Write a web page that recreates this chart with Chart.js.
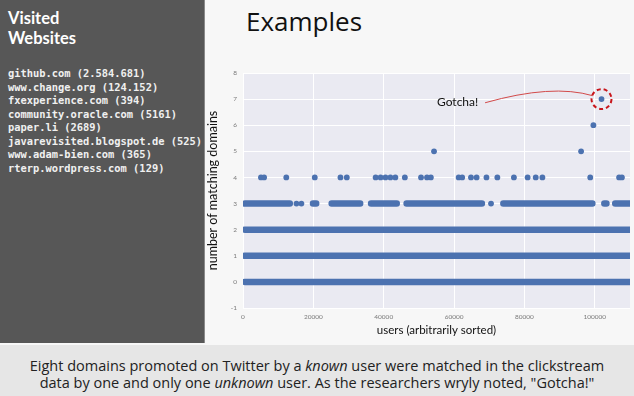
<!DOCTYPE html>
<html>
<head>
<meta charset="utf-8">
<script src="https://cdn.jsdelivr.net/npm/chart.js@4"></script>
<style>
  html, body { margin: 0; padding: 0; }
  body { width: 634px; height: 396px; overflow: hidden; position: relative; background: #f7f7f7; font-family: "Open Sans", sans-serif; }
  #side { position: absolute; left: 0; top: 0; width: 204px; height: 343px; background: #575757; border-right: 1px solid #8a8a8a; }
  #side h2 { margin: 0; position: absolute; left: 8px; top: 8px; font: bold 16.5px/20px Lato, sans-serif; color: #fff; }
  #side ul { list-style: none; margin: 0; padding: 0; position: absolute; left: 8px; top: 67px; font: bold 10.4px/13.5px "DejaVu Sans Mono", monospace; color: #f0f0f0; }
  #title { position: absolute; left: 246px; top: 3px; font: 26px "Open Sans", sans-serif; color: #111; }
  #wrap { position: absolute; left: 205px; top: 62px; width: 429px; height: 281px; }
  #caption { position: absolute; left: 0; top: 345px; width: 634px; height: 51px; background: #e6e6e6; display: flex; align-items: center; justify-content: center; text-align: center; font: 14.5px/17px "Open Sans", sans-serif; color: #222; padding-top: 6px; box-sizing: border-box; }
</style>
</head>
<body>
<div id="side">
  <h2>Visited<br>Websites</h2>
  <ul id="sites"></ul>
</div>
<div id="title">Examples</div>
<div id="wrap"><canvas id="myChart"></canvas></div>
<div id="caption"><div>Eight domains promoted on Twitter by a <i>known</i> user were matched in the clickstream<br>data by one and only one <i>unknown</i> user. As the researchers wryly noted, "Gotcha!"</div></div>
<script>
// sites listed in the side panel
const sites = ['github.com (2.584.681)', 'www.change.org (124.152)', 'fxexperience.com (394)', 'community.oracle.com (5161)',
  'paper.li (2689)', 'javarevisited.blogspot.de (525)', 'www.adam-bien.com (365)', 'rterp.wordpress.com (129)'];

// runs of users packed so densely they merge into one band: [first user, last user]
const bandsY0 = [[500, 110000]];
const bandsY1 = [[500, 110000]];
const bandsY2 = [[500, 110000]];
const bandsY3 = [[500, 13300], [19900, 20800], [25200, 33300], [36400, 43700], [46500, 67900], [74000, 99300], [102700, 103300], [105800, 110000]];

// single users (x positions) at each count of matching domains
const usersY3 = [15200, 16600, 70500];
const usersY4 = [5100, 6000, 12300, 20400, 27700, 29500, 37700, 39100, 40500, 41900, 43300, 46000, 50600, 52300, 53400,
  61300, 62300, 64800, 66400, 69200, 72300, 77000, 80900, 83200, 85100, 98700, 106900, 107700];
const usersY5 = [54300, 96100];
const usersY6 = [99600];
const usersY7 = [101900];

const xTicks = [0, 20000, 40000, 60000, 80000, 100000];
const gotchaLabel = 'Gotcha!';

document.getElementById('sites').innerHTML = sites.map(s => '<li>' + s + '</li>').join('');

const blue = '#4c72b0';

function bandData(bands, y) {
  const out = [];
  bands.forEach(b => {
    out.push({x: b[0], y: y}, {x: b[1], y: y}, {x: b[1], y: null});
  });
  return out;
}
function pointData(xs, y) {
  return xs.map(x => ({x: x, y: y}));
}

const bandSets = [[bandsY0, 0], [bandsY1, 1], [bandsY2, 2], [bandsY3, 3]].map(([b, y]) => ({
  data: bandData(b, y),
  showLine: true,
  borderColor: blue,
  borderWidth: 6.5,
  borderCapStyle: 'round',
  pointRadius: 0
}));

const singles = [].concat(pointData(usersY3, 3), pointData(usersY4, 4), pointData(usersY5, 5),
  pointData(usersY6, 6), pointData(usersY7, 7));

const plotBg = {
  id: 'plotBg',
  beforeDraw(chart) {
    const a = chart.chartArea, c = chart.ctx;
    c.save();
    c.fillStyle = '#eaeaf2';
    c.fillRect(a.left, a.top, a.right - a.left, a.bottom - a.top);
    c.restore();
  }
};

const gotcha = {
  id: 'gotcha',
  afterDatasetsDraw(chart) {
    const xs = chart.scales.x, ys = chart.scales.y, c = chart.ctx;
    const cx = xs.getPixelForValue(usersY7[0]), cy = ys.getPixelForValue(7);
    c.save();
    c.strokeStyle = '#c8151b';
    c.lineWidth = 2;
    c.setLineDash([4, 3]);
    c.beginPath();
    c.arc(cx, cy, 10, 0, Math.PI * 2);
    c.stroke();
    c.setLineDash([]);
    c.lineWidth = 1;
    c.strokeStyle = '#d24a4a';
    c.beginPath();
    c.moveTo(xs.getPixelForValue(68800), ys.getPixelForValue(6.86));
    c.quadraticCurveTo(xs.getPixelForValue(87900), ys.getPixelForValue(7.59), xs.getPixelForValue(99400), ys.getPixelForValue(7.13));
    c.stroke();
    c.fillStyle = '#111';
    c.font = '12px Lato';
    c.textAlign = 'center';
    c.textBaseline = 'middle';
    c.fillText(gotchaLabel, xs.getPixelForValue(61000), ys.getPixelForValue(6.9));
    c.restore();
  }
};

const ctx = document.getElementById('myChart');

new Chart(ctx, {
  type: 'scatter',
  data: {
    datasets: bandSets.concat([{
      data: singles,
      backgroundColor: blue,
      borderWidth: 0,
      pointRadius: 2.9
    }])
  },
  options: {
    responsive: true,
    maintainAspectRatio: false,
    animation: false,
    events: [],
    layout: { padding: { top: 11, right: 0, left: 0, bottom: 0 } },
    plugins: {
      legend: { display: false },
      tooltip: { enabled: false }
    },
    scales: {
      x: {
        type: 'linear',
        min: 0,
        max: 110000,
        afterBuildTicks: s => { s.ticks = xTicks.map(v => ({value: v})); },
        afterFit: s => { s.height = 35; },
        grid: { color: '#ffffff', lineWidth: 1, drawTicks: false },
        border: { display: false },
        ticks: { padding: 5, color: '#7a7a7a', font: { size: 6.5, family: 'Lato' }, maxRotation: 0, callback: v => String(v) },
        title: { display: true, text: 'users (arbitrarily sorted)', color: '#111', font: { size: 11.5, family: 'Lato' }, padding: { top: 0, bottom: 6 } }
      },
      y: {
        min: -1,
        max: 8,
        afterFit: s => { s.width = 38; },
        grid: { color: '#ffffff', lineWidth: 1, drawTicks: false },
        border: { display: false },
        ticks: { stepSize: 1, padding: 6, color: '#7a7a7a', font: { size: 6.5, family: 'Lato' } },
        title: { display: true, text: 'number of matching domains', color: '#111', font: { size: 12.5, family: 'Lato' }, padding: { top: 0, bottom: 0 } }
      }
    }
  },
  plugins: [plotBg, gotcha]
});
</script>
</body>
</html>
